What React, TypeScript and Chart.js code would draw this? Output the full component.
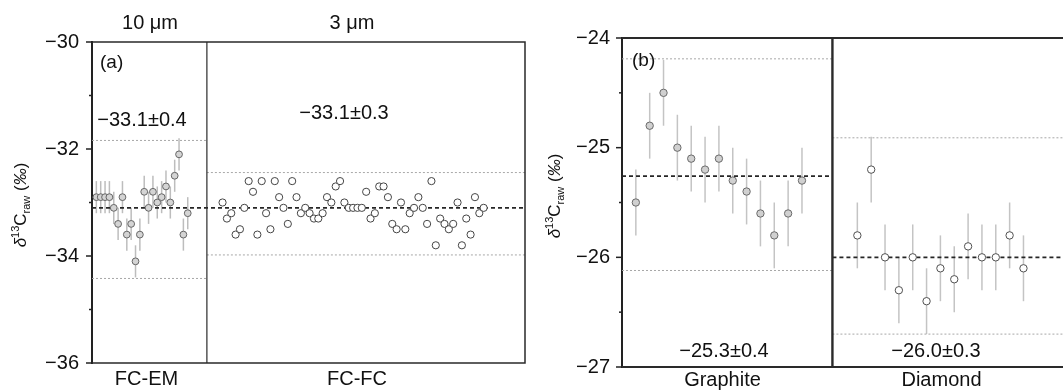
import React, { useEffect, useRef } from 'react';
import { Chart, registerables } from 'chart.js';

Chart.register(...registerables);

const FONT = "'Liberation Sans', Arial, Helvetica, sans-serif";

// ---------- Panel (a) ----------
const aGroupLabels = ['FC-EM', 'FC-FC'];
const aSizeLabels = ['10 μm', '3 μm'];
const aStatLabels = ['−33.1±0.4', '−33.1±0.3'];
const fcEmSample = [1, 2, 3, 4, 5, 6, 7, 8, 9, 10, 11, 12, 13, 14, 15, 16, 17, 18, 19, 20, 21, 22];
const fcEmValues = [-32.9, -32.9, -32.9, -32.9, -33.1, -33.4, -32.9, -33.6, -33.4, -34.1, -33.6, -32.8, -33.1, -32.8, -33.0, -32.9, -32.7, -33.0, -32.5, -32.1, -33.6, -33.2];
const fcEmErrors = [0.3, 0.3, 0.3, 0.3, 0.3, 0.3, 0.3, 0.3, 0.3, 0.3, 0.3, 0.3, 0.3, 0.3, 0.3, 0.3, 0.3, 0.3, 0.3, 0.3, 0.3, 0.3];
const fcFcFirstSample = 30;
const fcFcValues = [
  -33.0, -33.3, -33.2, -33.6, -33.5, -33.1, -32.6, -32.8, -33.6, -32.6,
  -33.2, -33.5, -32.6, -32.9, -33.1, -33.4, -32.6, -32.9, -33.2, -33.1,
  -33.2, -33.3, -33.3, -33.2, -32.9, -33.0, -32.7, -32.6, -33.0, -33.1,
  -33.1, -33.1, -33.1, -32.8, -33.3, -33.2, -32.7, -32.7, -32.9, -33.4,
  -33.5, -33.0, -33.5, -33.2, -33.1, -32.9, -33.1, -33.4, -32.6, -33.8,
  -33.3, -33.4, -33.5, -33.4, -33.0, -33.8, -33.3, -33.6, -32.9, -33.2,
  -33.1,
];
const aMean = -33.1;
const fcEmLimits = [-31.84, -34.42];
const fcFcLimits = [-32.44, -33.98];
const aDivider = 26.4;
const aXMax = 99.5;
const aYTicks = { min: -36, max: -30, step: 1 };

// ---------- Panel (b) ----------
const bGroupLabels = ['Graphite', 'Diamond'];
const bStatLabels = ['−25.3±0.4', '−26.0±0.3'];
const graphiteSample = [1, 2, 3, 4, 5, 6, 7, 8, 9, 10, 11, 12, 13];
const graphiteValues = [-25.5, -24.8, -24.5, -25.0, -25.1, -25.2, -25.1, -25.3, -25.4, -25.6, -25.8, -25.6, -25.3];
const graphiteErrors = [0.3, 0.3, 0.3, 0.3, 0.3, 0.3, 0.3, 0.3, 0.3, 0.3, 0.3, 0.3, 0.3];
const diamondSample = [17, 18, 19, 20, 21, 22, 23, 24, 25, 26, 27, 28, 29];
const diamondValues = [-25.8, -25.2, -26.0, -26.3, -26.0, -26.4, -26.1, -26.2, -25.9, -26.0, -26.0, -25.8, -26.1];
const diamondErrors = [0.3, 0.3, 0.3, 0.3, 0.3, 0.3, 0.3, 0.3, 0.3, 0.3, 0.3, 0.3, 0.3];
const graphiteMean = -25.26;
const graphiteLimits = [-24.19, -26.12];
const diamondMean = -26.0;
const diamondLimits = [-24.91, -26.7];
const bDivider = 15.2;
const bXMax = 32;
const bYTicks = { min: -27, max: -24, step: 0.5 };

const fmt = (v: number) => (v < 0 ? '−' + Math.abs(v) : String(v));

function seg(x0: number, x1: number, y: number, mean: boolean) {
  return {
    type: 'scatter',
    data: [{ x: x0, y }, { x: x1, y }],
    showLine: true,
    borderColor: mean ? '#262626' : '#a8a8a8',
    borderWidth: mean ? 1.7 : 1,
    borderDash: mean ? [4, 3] : [2, 2],
    pointRadius: 0,
    pointHoverRadius: 0,
    order: 5,
  };
}

function pts(xs: number[], ys: number[], fill: string, stroke: string, r: number) {
  return {
    type: 'scatter',
    data: xs.map((x, i) => ({ x, y: ys[i] })),
    backgroundColor: fill,
    borderColor: stroke,
    borderWidth: 1,
    pointRadius: r,
    pointHoverRadius: r,
    order: 0,
  };
}

function drawYTitle(ctx: CanvasRenderingContext2D, x: number, yc: number) {
  const parts = [
    { t: 'δ', f: `italic 17px ${FONT}`, dy: 0 },
    { t: '13', f: `11px ${FONT}`, dy: -7 },
    { t: 'C', f: `17px ${FONT}`, dy: 0 },
    { t: 'raw', f: `11px ${FONT}`, dy: 4 },
    { t: ' (', f: `17px ${FONT}`, dy: 0 },
    { t: '‰', f: `italic 17px ${FONT}`, dy: 0 },
    { t: ')', f: `17px ${FONT}`, dy: 0 },
  ];
  ctx.save();
  ctx.translate(x, yc);
  ctx.rotate(-Math.PI / 2);
  ctx.fillStyle = '#111';
  ctx.textBaseline = 'alphabetic';
  ctx.textAlign = 'left';
  let total = 0;
  for (const p of parts) {
    ctx.font = p.f;
    total += ctx.measureText(p.t).width;
  }
  let cx = -total / 2;
  for (const p of parts) {
    ctx.font = p.f;
    ctx.fillText(p.t, cx, p.dy);
    cx += ctx.measureText(p.t).width;
  }
  ctx.restore();
}

type Txt = { t: string; x: number; y: number; align?: CanvasTextAlign; size?: number };

function makePlugin(opts: {
  errors: { xs: number[]; ys: number[]; es: number[]; color: string }[];
  isMajor: (v: number) => boolean;
  divider: number;
  frameWidth: number;
  dividerWidth: number;
  texts: Txt[];
  title: { x: number; y: number };
}) {
  return {
    id: 'custom',
    beforeDatasetsDraw(chart: any) {
      const { ctx, scales } = chart;
      const x = scales.x;
      const y = scales.y;
      ctx.save();
      ctx.lineWidth = 1.5;
      for (const s of opts.errors) {
        ctx.strokeStyle = s.color;
        s.xs.forEach((xv, i) => {
          const px = x.getPixelForValue(xv);
          ctx.beginPath();
          ctx.moveTo(px, y.getPixelForValue(s.ys[i] + s.es[i]));
          ctx.lineTo(px, y.getPixelForValue(s.ys[i] - s.es[i]));
          ctx.stroke();
        });
      }
      ctx.restore();
    },
    afterDraw(chart: any) {
      const { ctx, chartArea: ca, scales } = chart;
      const x = scales.x;
      const y = scales.y;
      ctx.save();
      ctx.strokeStyle = '#222';
      ctx.lineWidth = 1.5;
      y.ticks.forEach((t: any) => {
        const py = y.getPixelForValue(t.value);
        const len = opts.isMajor(t.value) ? 6 : 3;
        ctx.beginPath();
        ctx.moveTo(ca.left - len, py);
        ctx.lineTo(ca.left, py);
        ctx.stroke();
      });
      ctx.strokeStyle = '#2a2a2a';
      ctx.lineWidth = opts.frameWidth;
      ctx.beginPath();
      ctx.moveTo(ca.left, ca.top);
      ctx.lineTo(ca.right, ca.top);
      ctx.lineTo(ca.right, ca.bottom);
      ctx.lineTo(ca.left, ca.bottom);
      ctx.stroke();
      ctx.lineWidth = opts.dividerWidth;
      const dx = x.getPixelForValue(opts.divider);
      ctx.beginPath();
      ctx.moveTo(dx, ca.top);
      ctx.lineTo(dx, ca.bottom);
      ctx.stroke();
      ctx.fillStyle = '#111';
      ctx.textBaseline = 'middle';
      for (const tx of opts.texts) {
        ctx.font = `${tx.size || 20}px ${FONT}`;
        ctx.textAlign = tx.align || 'center';
        ctx.fillText(tx.t, tx.x, tx.y);
      }
      drawYTitle(ctx, opts.title.x, opts.title.y);
      ctx.restore();
    },
  };
}

function baseConfig(p: {
  datasets: any[];
  top: number;
  bottom: number;
  right: number;
  axisWidth: number;
  xMax: number;
  ticks: { min: number; max: number; step: number };
  isMajor: (v: number) => boolean;
  labelPad: number;
  plugin: any;
}) {
  return {
    type: 'scatter',
    data: { datasets: p.datasets },
    options: {
      responsive: false,
      animation: false,
      devicePixelRatio: 1,
      events: [],
      layout: { padding: { left: 0, top: p.top, right: p.right, bottom: p.bottom } },
      plugins: { legend: { display: false }, tooltip: { enabled: false } },
      scales: {
        x: { type: 'linear', display: false, min: 0, max: p.xMax },
        y: {
          type: 'linear',
          min: p.ticks.min,
          max: p.ticks.max,
          afterFit: (s: any) => {
            s.width = p.axisWidth;
          },
          border: { display: true, color: '#222', width: 2 },
          grid: { drawOnChartArea: false, drawTicks: false },
          ticks: {
            stepSize: p.ticks.step,
            autoSkip: false,
            padding: p.labelPad,
            color: '#111',
            font: { family: FONT, size: 20 },
            callback: (v: any) => (p.isMajor(Number(v)) ? fmt(Number(v)) : ''),
          },
        },
      },
    },
    plugins: [p.plugin],
  } as any;
}

function configA() {
  const fcFcSample = fcFcValues.map((_, i) => fcFcFirstSample + i);
  const isMajor = (v: number) => Math.abs(v % 2) < 1e-6;
  const datasets = [
    seg(0, aDivider, fcEmLimits[0], false),
    seg(0, aDivider, fcEmLimits[1], false),
    seg(aDivider, aXMax, fcFcLimits[0], false),
    seg(aDivider, aXMax, fcFcLimits[1], false),
    seg(0, aXMax, aMean, true),
    pts(fcEmSample, fcEmValues, '#d4d4d4', '#666666', 3.4),
    pts(fcFcSample, fcFcValues, '#ffffff', '#444444', 3.6),
  ];
  const plugin = makePlugin({
    errors: [{ xs: fcEmSample, ys: fcEmValues, es: fcEmErrors, color: '#bdbdbd' }],
    isMajor,
    divider: aDivider,
    frameWidth: 1.5,
    dividerWidth: 1.2,
    texts: [
      { t: aSizeLabels[0], x: 150, y: 23 },
      { t: aSizeLabels[1], x: 352, y: 23 },
      { t: aGroupLabels[0], x: 146.5, y: 379 },
      { t: aGroupLabels[1], x: 357, y: 379 },
      { t: '(a)', x: 100, y: 63, align: 'left', size: 19 },
      { t: aStatLabels[0], x: 142, y: 120 },
      { t: aStatLabels[1], x: 344, y: 113.5 },
    ],
    title: { x: 26, y: 205 },
  });
  return baseConfig({
    datasets,
    top: 42,
    bottom: 29,
    right: 20,
    axisWidth: 92,
    xMax: aXMax,
    ticks: aYTicks,
    isMajor,
    labelPad: 13,
    plugin,
  });
}

function configB() {
  const isMajor = (v: number) => Math.abs(v - Math.round(v)) < 1e-6;
  const datasets = [
    seg(0, bDivider, graphiteLimits[0], false),
    seg(0, bDivider, graphiteLimits[1], false),
    seg(0, bDivider, graphiteMean, true),
    seg(bDivider, bXMax, diamondLimits[0], false),
    seg(bDivider, bXMax, diamondLimits[1], false),
    seg(bDivider, bXMax, diamondMean, true),
    pts(graphiteSample, graphiteValues, '#d0d0d0', '#6a6a6a', 3.7),
    pts(diamondSample, diamondValues, '#ffffff', '#505050', 3.7),
  ];
  const plugin = makePlugin({
    errors: [
      { xs: graphiteSample, ys: graphiteValues, es: graphiteErrors, color: '#c4c4c4' },
      { xs: diamondSample, ys: diamondValues, es: diamondErrors, color: '#c4c4c4' },
    ],
    isMajor,
    divider: bDivider,
    frameWidth: 2.2,
    dividerWidth: 2.4,
    texts: [
      { t: '(b)', x: 87, y: 61, align: 'left', size: 19 },
      { t: bStatLabels[0], x: 179, y: 351 },
      { t: bStatLabels[1], x: 391, y: 351 },
      { t: bGroupLabels[0], x: 177.5, y: 380 },
      { t: bGroupLabels[1], x: 396.5, y: 380 },
    ],
    title: { x: 15, y: 196 },
  });
  return baseConfig({
    datasets,
    top: 38,
    bottom: 25,
    right: 5,
    axisWidth: 77,
    xMax: bXMax,
    ticks: bYTicks,
    isMajor,
    labelPad: 12,
    plugin,
  });
}

export default function App() {
  const refA = useRef<HTMLCanvasElement>(null);
  const refB = useRef<HTMLCanvasElement>(null);
  useEffect(() => {
    const a = new Chart(refA.current as HTMLCanvasElement, configA());
    const b = new Chart(refB.current as HTMLCanvasElement, configB());
    return () => {
      a.destroy();
      b.destroy();
    };
  }, []);
  return (
    <div
      style={{
        position: 'absolute',
        left: 0,
        top: 0,
        width: 1063,
        height: 392,
        overflow: 'hidden',
        background: '#fff',
      }}
    >
      <canvas ref={refA} width={545} height={392} style={{ position: 'absolute', left: 0, top: 0 }} />
      <canvas ref={refB} width={525} height={392} style={{ position: 'absolute', left: 545, top: 0 }} />
    </div>
  );
}
